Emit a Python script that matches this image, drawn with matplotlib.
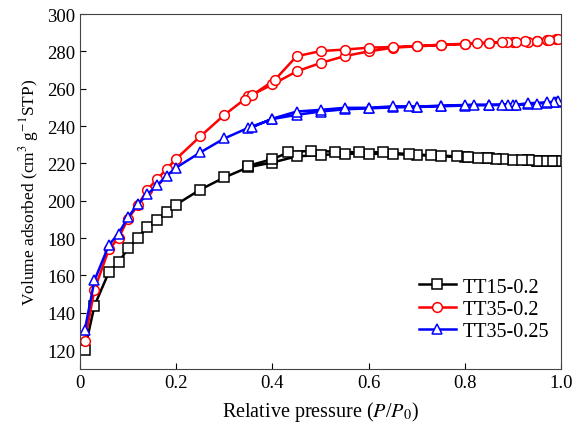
import matplotlib
matplotlib.use("Agg")
import matplotlib.pyplot as plt

plt.rcParams['font.family'] = ['Liberation Serif', 'DejaVu Serif']
plt.rcParams['mathtext.fontset'] = 'stix'

# TT15-0.2 : adsorption then desorption branch
p_tt15_ads = [0.01, 0.03, 0.06, 0.08, 0.10, 0.12, 0.14, 0.16, 0.18, 0.20, 0.25, 0.30, 0.35, 0.40,
              0.45, 0.50, 0.55, 0.60, 0.65, 0.70, 0.75, 0.80, 0.85, 0.90, 0.93, 0.95, 0.97, 0.99]
v_tt15_ads = [120.3, 143.8, 161.8, 167.0, 174.5, 180.0, 186.0, 189.5, 194.0, 198.0, 206.0, 212.5, 218.0, 220.5,
              223.8, 224.5, 225.2, 225.2, 225.0, 224.5, 224.0, 223.3, 222.7, 222.0, 221.8, 221.5, 221.4, 221.3]
p_tt15_des = [0.99, 0.98, 0.963, 0.95, 0.932, 0.918, 0.88, 0.865, 0.845, 0.828, 0.807, 0.783, 0.73,
              0.683, 0.63, 0.58, 0.53, 0.48, 0.433, 0.40, 0.35]
v_tt15_des = [221.4, 221.4, 221.5, 221.5, 221.8, 221.8, 222.3, 222.3, 222.7, 222.8, 223.2, 223.8, 224.4,
              225.0, 226.0, 225.9, 226.3, 226.8, 225.9, 222.3, 218.8]

# TT35-0.2
p_tt35_ads = [0.01, 0.03, 0.06, 0.08, 0.10, 0.12, 0.14, 0.16, 0.18, 0.20, 0.25, 0.30, 0.35, 0.40,
              0.45, 0.50, 0.55, 0.60, 0.65, 0.70, 0.75, 0.80, 0.85, 0.90, 0.93, 0.95, 0.97, 0.99]
v_tt35_ads = [125.0, 152.4, 174.0, 180.0, 190.5, 197.5, 206.0, 211.5, 217.0, 222.5, 234.5, 246.0, 255.9, 262.3,
              269.3, 273.8, 277.5, 280.0, 282.0, 282.7, 283.4, 284.0, 284.5, 285.0, 285.3, 285.6, 286.0, 286.5]
p_tt35_des = [0.994, 0.974, 0.95, 0.925, 0.906, 0.887, 0.877, 0.85, 0.825, 0.80, 0.75, 0.70, 0.65,
              0.60, 0.55, 0.50, 0.45, 0.405, 0.357, 0.343]
v_tt35_des = [286.8, 286.3, 285.6, 285.4, 285.2, 285.0, 285.0, 284.7, 284.5, 284.1, 283.6, 282.9, 282.4,
              282.0, 281.0, 280.2, 277.4, 264.8, 256.4, 254.0]

# TT35-0.25
p_tt35b_ads = [0.01, 0.03, 0.06, 0.08, 0.10, 0.12, 0.14, 0.16, 0.18, 0.20, 0.25, 0.30, 0.35, 0.40,
               0.45, 0.50, 0.55, 0.60, 0.65, 0.70, 0.75, 0.80, 0.85, 0.90, 0.93, 0.95, 0.97, 0.99]
v_tt35b_ads = [130.9, 157.3, 176.3, 182.4, 191.3, 198.1, 203.5, 208.2, 213.4, 217.8, 225.9, 233.4, 239.1, 243.8,
               246.0, 247.8, 249.0, 249.5, 250.0, 250.2, 250.6, 251.0, 251.2, 251.4, 251.6, 252.0, 252.5, 253.0]
p_tt35b_des = [0.994, 0.984, 0.97, 0.93, 0.906, 0.89, 0.877, 0.85, 0.818, 0.80, 0.75, 0.70, 0.683,
               0.65, 0.60, 0.55, 0.50, 0.45, 0.40, 0.357]
v_tt35b_des = [253.5, 253.0, 252.7, 252.2, 251.5, 251.5, 251.5, 251.5, 251.5, 251.3, 251.0, 250.4, 250.6,
               250.6, 249.8, 249.8, 248.7, 247.8, 244.0, 239.3]

series = [
    ("TT15-0.2", p_tt15_ads + p_tt15_des, v_tt15_ads + v_tt15_des, "black", "s"),
    ("TT35-0.2", p_tt35_ads + p_tt35_des, v_tt35_ads + v_tt35_des, "red", "o"),
    ("TT35-0.25", p_tt35b_ads + p_tt35b_des, v_tt35b_ads + v_tt35b_des, "blue", "^"),
]

fig = plt.figure(figsize=(5.84, 4.31), dpi=100)
ax = fig.add_axes([0.137, 0.142, 0.824, 0.823])

for name, p, v, c, m in series:
    ax.plot(p, v, color=c, marker=m, markersize=7, markerfacecolor="white",
            markeredgecolor=c, markeredgewidth=1.1, linewidth=1.8, label=name)

ax.set_xlim(0, 1.0)
ax.set_ylim(110, 300)
ax.set_xticks([0, 0.2, 0.4, 0.6, 0.8, 1.0])
ax.set_xticklabels(["0", "0.2", "0.4", "0.6", "0.8", "1.0"])
ax.set_yticks(range(120, 301, 20))
ax.tick_params(direction="in", labelsize=13.5, length=4)
for s in ax.spines.values():
    s.set_color("#444444")

ax.set_xlabel("Relative pressure ($P$/$P_0$)", fontsize=14.5, labelpad=6)
ax.set_ylabel("Volume adsorbed (cm$^3$ g$^{-1}$STP)", fontsize=12.5)

ax.legend(loc="lower right", bbox_to_anchor=(1.0, 0.045), frameon=False, fontsize=14.5,
          handlelength=1.8, handletextpad=0.35, labelspacing=0.15, borderaxespad=0.2)

fig.savefig("out.png", dpi=100)
